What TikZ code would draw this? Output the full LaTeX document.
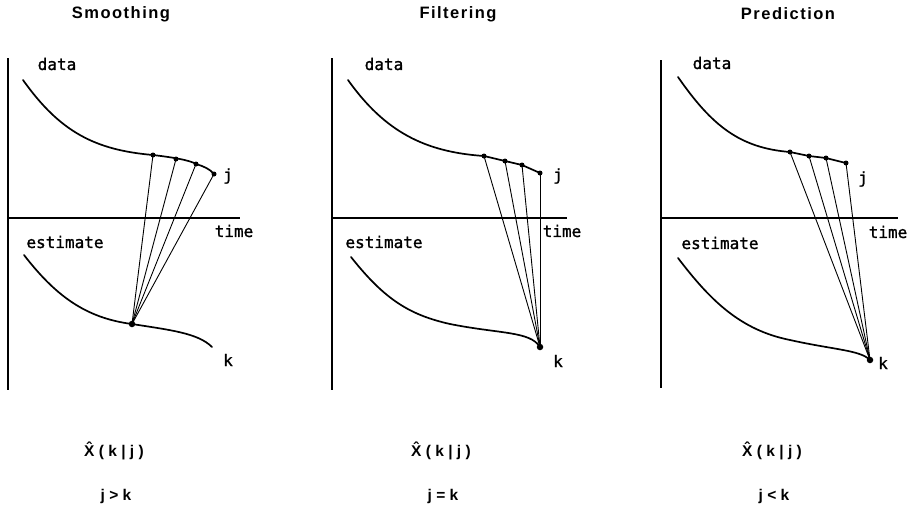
\documentclass[tikz,border=0pt]{standalone}
\usepackage{fontspec}
\setmainfont{Liberation Sans}
\newfontfamily\monof[FakeBold=1.2]{DejaVu Sans Mono}
\newfontfamily\titlef[LetterSpace=9]{Liberation Sans Bold}
\newfontfamily\eqnf[LetterSpace=28]{Liberation Sans Bold}
\begin{document}
\begin{tikzpicture}[x=1pt,y=-1pt,
  axis/.style={line width=2.2pt},
  curve/.style={line width=1.7pt, line cap=round, line join=round},
  ray/.style={line width=0.9pt},
  dot/.style={circle, fill=black, inner sep=0pt, minimum size=5pt},
  bigdot/.style={circle, fill=black, inner sep=0pt, minimum size=6.5pt},
  ttl/.style={font=\titlef\fontsize{16.5}{19}\selectfont, inner sep=0pt},
  lbl/.style={font=\monof\fontsize{16}{19}\selectfont, inner sep=0pt},
  eqn/.style={font=\eqnf\fontsize{15.5}{18}\selectfont, inner sep=0pt}]
\useasboundingbox (0,0) rectangle (912,512);
% ---------------- Smoothing ----------------
\node[ttl] (t1) at (121,14) {Smoothing};
\draw[axis] (8,58) -- (8,390);
\draw[axis] (8,218) -- (240,218);
\node[lbl] (da1) at (57,64) {data};
\node[lbl] (es1) at (65,242) {estimate};
\node[lbl] (ti1) at (234,231) {time};
\node[lbl] (j1) at (228,176) {j};
\node[lbl] (k1) at (228,360) {k};
\draw[curve] (23,80) .. controls (60,132) and (95,150) .. (153,155)
  .. controls (170,157) and (190,160) .. (196,164) .. controls (203,166) and (210,169) .. (214,174);
\draw[curve] (24,255) .. controls (55,295) and (85,318) .. (132,324)
  .. controls (170,330) and (198,333) .. (212,347);
\node[dot] (a1) at (153,155) {};
\node[dot] (a2) at (176,159) {};
\node[dot] (a3) at (196,164) {};
\node[dot] (a4) at (214,174) {};
\node[bigdot] (e1) at (132,324) {};
\foreach \i in {1,...,4} \draw[ray] (a\i.center) -- (e1.center);
% ---------------- Filtering ----------------
\node[ttl] (t2) at (458,14) {Filtering};
\draw[axis] (332,58) -- (332,390);
\draw[axis] (332,218) -- (567,218);
\node[lbl] (da2) at (384,64) {data};
\node[lbl] (es2) at (384,242) {estimate};
\node[lbl] (ti2) at (562,231) {time};
\node[lbl] (j2) at (558,176) {j};
\node[lbl] (k2) at (558,361) {k};
\draw[curve] (348,80) .. controls (385,132) and (425,152) .. (484,156)
  -- (505,161) -- (522,165) -- (540,173);
\draw[curve] (351,257) .. controls (385,300) and (410,315) .. (450,324)
  .. controls (500,334) and (530,331) .. (540,347);
\node[dot] (b1) at (484,156) {};
\node[dot] (b2) at (505,161) {};
\node[dot] (b3) at (522,165) {};
\node[dot] (b4) at (540,173) {};
\node[bigdot] (e2) at (540,347) {};
\foreach \i in {1,...,4} \draw[ray] (b\i.center) -- (e2.center);
% ---------------- Prediction ----------------
\node[ttl] (t3) at (788,14) {Prediction};
\draw[axis] (661,60) -- (661,388);
\draw[axis] (661,218) -- (898,218);
\node[lbl] (da3) at (712,63) {data};
\node[lbl] (es3) at (720,243) {estimate};
\node[lbl] (ti3) at (888,232) {time};
\node[lbl] (j3) at (863,179) {j};
\node[lbl] (k3) at (883,363) {k};
\draw[curve] (678,77) .. controls (712,126) and (740,148) .. (790,152)
  -- (809,156) -- (826,158) -- (846,163);
\draw[curve] (678,258) .. controls (710,300) and (740,330) .. (790,340)
  .. controls (835,350) and (860,350) .. (870,360);
\node[dot] (c1) at (790,152) {};
\node[dot] (c2) at (809,156) {};
\node[dot] (c3) at (826,158) {};
\node[dot] (c4) at (846,163) {};
\node[bigdot] (e3) at (870,360) {};
\foreach \i in {1,...,4} \draw[ray] (c\i.center) -- (e3.center);
% ---------------- bottom labels ----------------
\node[eqn] (x1) at (114,451) {\^{X}(k|j)};
\node[eqn] (x2) at (441,451) {\^{X}(k|j)};
\node[eqn] (x3) at (772,451) {\^{X}(k|j)};
\node[eqn] (r1) at (116,496) {j>k};
\node[eqn] (r2) at (443,496) {j=k};
\node[eqn] (r3) at (774,496) {j<k};
\end{tikzpicture}
\end{document}
